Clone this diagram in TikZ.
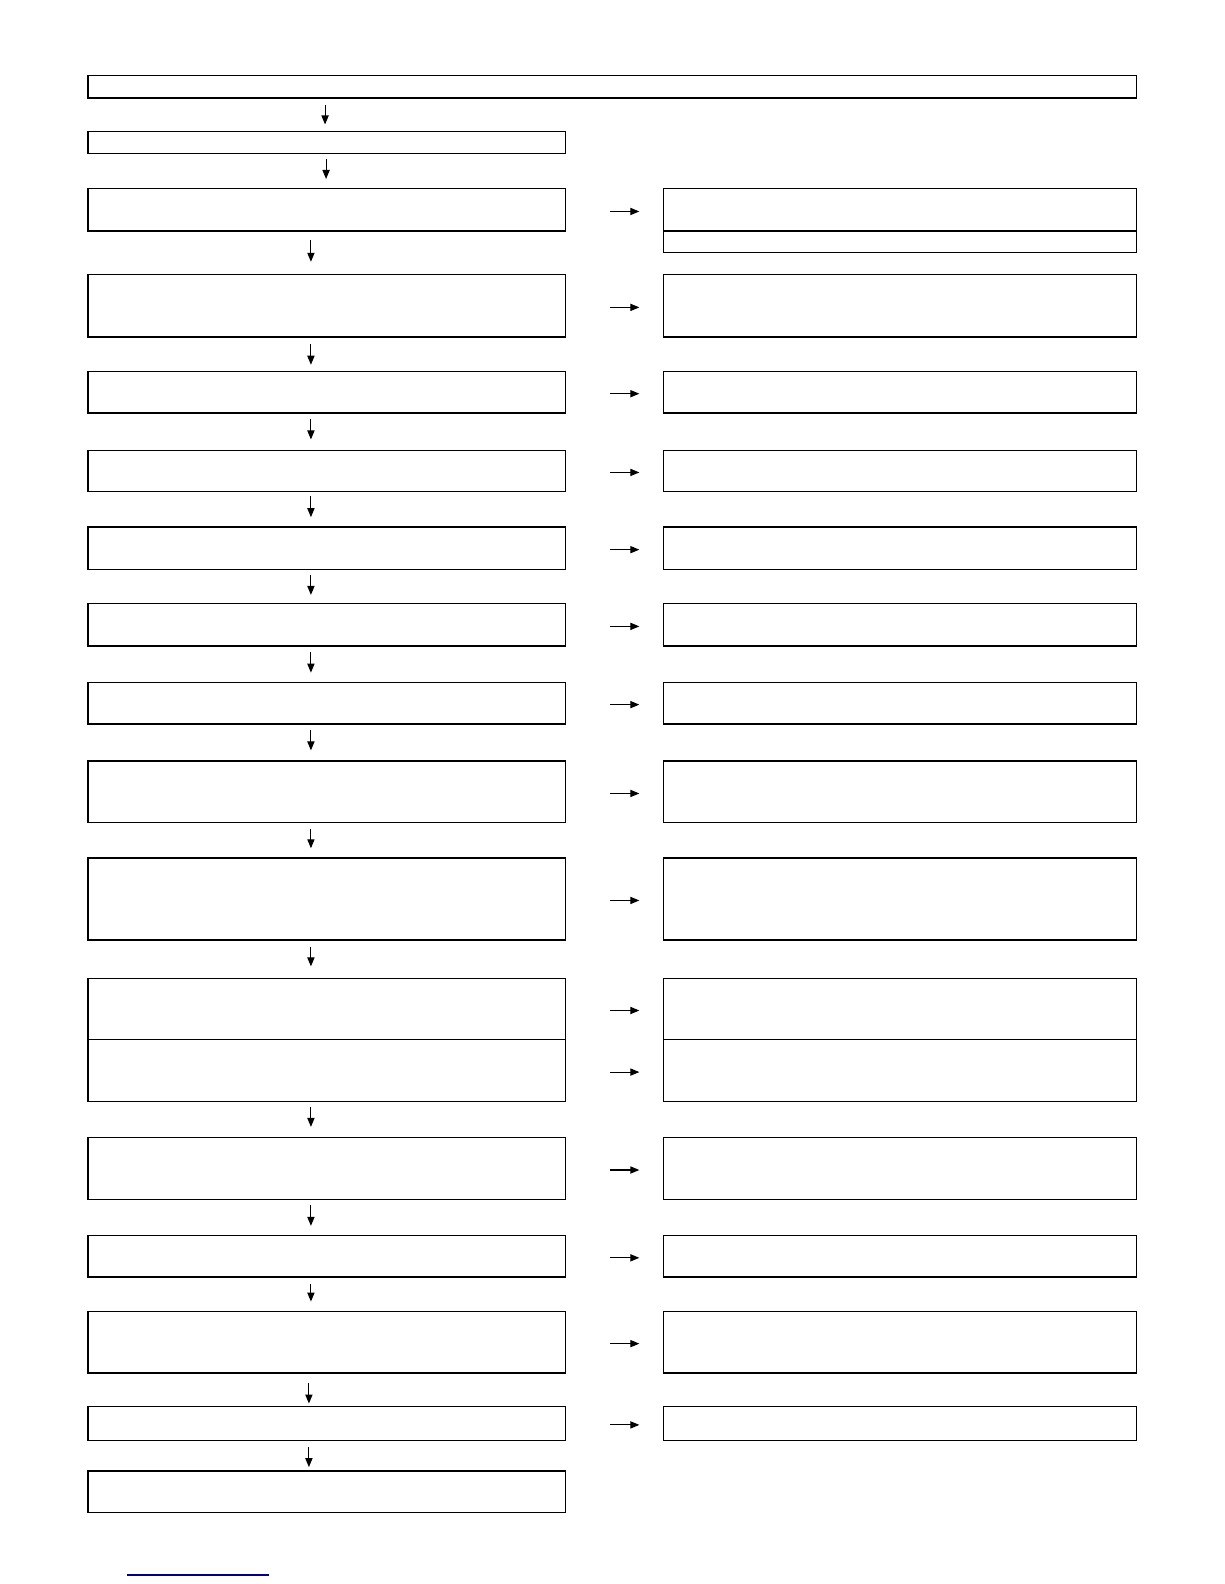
\documentclass[tikz,border=0pt]{standalone}
\usetikzlibrary{fit,arrows.meta}
\begin{document}
\begin{tikzpicture}[x=0.50475pt,y=-0.50475pt,
  box/.style={draw,inner sep=0pt,line width=0.7pt},
  arr/.style={line width=0.55pt,-{Triangle[length=4.5pt,width=3.6pt]}}]
\useasboundingbox (0,0) rectangle (1212.5,1569.1);
\newcommand\bx[5]{\node[box,fit={(#2,#3) (#4,#5)}] (#1) {};}
% down arrow: from, to, x, shorten start, shorten end (in units)
\newcommand\darr[5]{\coordinate (tmpx) at (#3,0);
  \draw[arr,shorten <=#4*0.50475pt,shorten >=#5*0.50475pt] (#1.south -| tmpx) -- (#2.north -| tmpx);}
\newcommand\rarr[2]{\draw[arr,shorten <=44*0.50475pt,shorten >=23*0.50475pt] ([yshift=-0.75pt]#1.east) -- ([yshift=-0.75pt]#1.east -| #2.west);}
% left column
\bx{T}{87}{75}{1126}{97}
\bx{L2}{87}{130}{560}{152}
\bx{L3}{87}{187}{560}{229}
\bx{L4}{87}{272}{560}{334}
\bx{L5}{87}{368}{560}{409}
\bx{L6}{87}{446}{560}{487}
\bx{L7}{87}{522}{560}{564}
\bx{L8}{87}{598}{560}{640}
\bx{L9}{87}{676}{560}{717}
\bx{L10}{87}{754}{560}{815}
\bx{L11}{87}{850}{560}{931}
\bx{L12a}{87}{969}{560}{1030}
\bx{L12b}{87}{1030}{560}{1091}
\bx{L13}{87}{1127}{560}{1188}
\bx{L14}{87}{1224}{560}{1265}
\bx{L15}{87}{1299}{560}{1360}
\bx{L16}{87}{1393}{560}{1427}
\bx{L17}{87}{1457}{560}{1498}
% right column
\bx{R3}{657}{187}{1126}{229}
\bx{R3b}{657}{229}{1126}{250}
\bx{R4}{657}{272}{1126}{334}
\bx{R5}{657}{368}{1126}{409}
\bx{R6}{657}{446}{1126}{487}
\bx{R7}{657}{522}{1126}{564}
\bx{R8}{657}{598}{1126}{640}
\bx{R9}{657}{676}{1126}{717}
\bx{R10}{657}{754}{1126}{815}
\bx{R11}{657}{850}{1126}{931}
\bx{R12a}{657}{969}{1126}{1030}
\bx{R12b}{657}{1030}{1126}{1091}
\bx{R13}{657}{1127}{1126}{1188}
\bx{R14}{657}{1224}{1126}{1265}
\bx{R15}{657}{1299}{1126}{1360}
\bx{R16}{657}{1393}{1126}{1427}
% down arrows
\darr{T}{L2}{322}{6}{6}
\darr{L2}{L3}{323}{5}{9}
\darr{L3}{L4}{308}{8}{12}
\darr{L4}{L5}{308}{6}{6}
\darr{L5}{L6}{308}{5}{10}
\darr{L6}{L7}{308}{4}{9}
\darr{L7}{L8}{308}{5}{8}
\darr{L8}{L9}{308}{5}{9}
\darr{L9}{L10}{308}{5}{10}
\darr{L10}{L11}{308}{5}{9}
\darr{L11}{L12a}{308}{6}{11}
\darr{L12b}{L13}{308}{5}{10}
\darr{L13}{L14}{308}{5}{9}
\darr{L14}{L15}{308}{6}{9}
\darr{L15}{L16}{306}{9}{2}
\darr{L16}{L17}{306}{5.5}{3}
% right arrows
\rarr{L3}{R3}
\rarr{L4}{R4}
\rarr{L5}{R5}
\rarr{L6}{R6}
\rarr{L7}{R7}
\rarr{L8}{R8}
\rarr{L9}{R9}
\rarr{L10}{R10}
\rarr{L11}{R11}
\rarr{L12a}{R12a}
\rarr{L12b}{R12b}
\rarr{L13}{R13}
\rarr{L14}{R14}
\rarr{L15}{R15}
\rarr{L16}{R16}
% blue line at bottom
\draw[line width=0.8pt,color={rgb,255:red,0;green,0;blue,128}] (125.8,1560.2) -- (266.5,1560.2);
\end{tikzpicture}
\end{document}
